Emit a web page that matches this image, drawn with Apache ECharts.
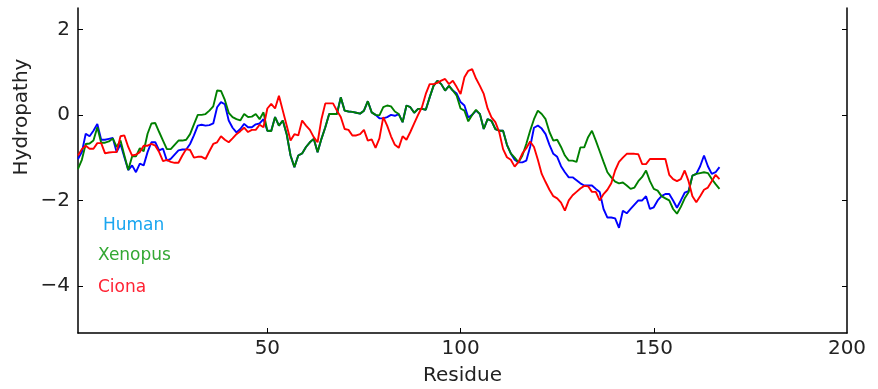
<!DOCTYPE html>
<html>
<head>
<meta charset="utf-8">
<script src="https://cdn.jsdelivr.net/npm/echarts@6/dist/echarts.min.js"></script>
<style>
html,body{margin:0;padding:0;background:#fff;}
#chart{width:878px;height:389px;}
</style>
</head>
<body>
<div id="chart"></div>
<script>
const xTicks = [50, 100, 150, 200];
const yTicks = [-4, -2, 0, 2];
const seriesNames = ['Human', 'Xenopus', 'Ciona'];
const xLabel = 'Residue';
const yLabel = 'Hydropathy';

const human = [
-1.03,-0.87,-0.44,-0.5,-0.37,-0.21,-0.58,-0.58,-0.56,-0.54,
-0.87,-0.68,-0.99,-1.29,-1.18,-1.34,-1.14,-1.18,-0.87,-0.64,
-0.64,-0.83,-0.79,-1.07,-1.03,-0.93,-0.83,-0.81,-0.81,-0.68,
-0.48,-0.25,-0.23,-0.25,-0.24,-0.2,0.18,0.3,0.25,-0.13,
-0.3,-0.41,-0.33,-0.21,-0.29,-0.29,-0.22,-0.2,-0.1,-0.37,
-0.37,-0.05,-0.25,-0.13,-0.45,-0.95,-1.22,-0.95,-0.9,-0.75,
-0.64,-0.56,-0.87,-0.56,-0.29,0.02,0.02,0.02,0.41,0.1,
0.08,0.07,0.05,0.03,0.1,0.32,0.06,0.0,-0.08,-0.08,
-0.05,0.0,-0.02,0.02,-0.17,0.22,0.18,0.05,0.14,0.14,
0.12,0.41,0.68,0.8,0.72,0.57,0.68,0.57,0.5,0.3,
0.22,-0.06,0.0,0.1,0.02,-0.33,-0.1,-0.14,-0.33,-0.37,
-0.37,-0.7,-0.9,-1.05,-1.11,-1.11,-1.07,-0.75,-0.3,-0.25,
-0.32,-0.45,-0.7,-0.91,-0.98,-1.2,-1.34,-1.46,-1.46,-1.53,
-1.6,-1.65,-1.65,-1.65,-1.73,-1.8,-2.2,-2.4,-2.4,-2.42,
-2.64,-2.24,-2.3,-2.2,-2.1,-2.0,-2.0,-1.9,-2.2,-2.16,
-2.0,-1.9,-1.85,-1.85,-2.0,-2.17,-2.0,-1.82,-1.78,-1.42,
-1.38,-1.2,-0.95,-1.2,-1.38,-1.34,-1.22
];

const xenopus = [
-1.26,-1.05,-0.68,-0.67,-0.6,-0.29,-0.65,-0.65,-0.62,-0.55,
-0.75,-0.6,-0.95,-1.29,-0.97,-0.97,-0.78,-0.85,-0.44,-0.2,
-0.19,-0.4,-0.6,-0.8,-0.8,-0.7,-0.6,-0.6,-0.58,-0.45,
-0.22,0.0,0.0,0.02,0.1,0.2,0.57,0.56,0.35,0.05,
-0.05,-0.1,-0.13,0.02,-0.05,-0.04,0.02,-0.1,0.06,-0.37,
-0.38,-0.05,-0.25,-0.13,-0.45,-0.95,-1.22,-0.95,-0.9,-0.75,
-0.64,-0.56,-0.87,-0.56,-0.29,0.02,0.02,0.02,0.41,0.1,
0.08,0.07,0.05,0.03,0.1,0.32,0.06,0.0,-0.01,0.18,
0.22,0.2,0.08,0.02,-0.17,0.22,0.18,0.05,0.14,0.14,
0.12,0.41,0.68,0.8,0.72,0.57,0.68,0.57,0.45,0.15,
0.1,-0.15,0.0,0.12,0.02,-0.33,-0.1,-0.14,-0.33,-0.37,
-0.37,-0.7,-0.9,-1.0,-1.11,-0.95,-0.68,-0.37,-0.1,0.1,
0.02,-0.1,-0.4,-0.6,-0.58,-0.75,-0.95,-1.07,-1.07,-1.1,
-0.76,-0.76,-0.52,-0.37,-0.6,-0.85,-1.1,-1.34,-1.46,-1.56,
-1.6,-1.58,-1.65,-1.73,-1.7,-1.55,-1.45,-1.3,-1.55,-1.73,
-1.77,-1.9,-1.95,-2.0,-2.2,-2.31,-2.15,-1.95,-1.81,-1.42,
-1.38,-1.36,-1.34,-1.36,-1.5,-1.62,-1.73
];

const ciona = [
-0.95,-0.8,-0.72,-0.79,-0.79,-0.66,-0.66,-0.9,-0.88,-0.87,
-0.87,-0.5,-0.48,-0.75,-0.95,-0.93,-0.87,-0.72,-0.72,-0.68,
-0.72,-0.87,-1.08,-1.05,-1.1,-1.12,-1.12,-0.95,-0.8,-0.82,
-1.0,-0.98,-0.98,-1.03,-0.85,-0.68,-0.64,-0.5,-0.58,-0.64,
-0.55,-0.45,-0.38,-0.3,-0.4,-0.35,-0.35,-0.23,-0.29,0.15,
0.26,0.15,0.45,0.1,-0.25,-0.6,-0.45,-0.48,-0.13,-0.25,
-0.35,-0.52,-0.64,-0.1,0.27,0.27,0.27,0.1,-0.05,-0.33,
-0.35,-0.48,-0.48,-0.45,-0.35,-0.6,-0.57,-0.77,-0.55,-0.05,
-0.25,-0.5,-0.7,-0.77,-0.5,-0.58,-0.4,-0.2,0.0,0.18,
0.49,0.72,0.72,0.75,0.8,0.84,0.72,0.8,0.65,0.49,
0.88,1.03,1.07,0.85,0.68,0.49,0.15,-0.06,-0.17,-0.4,
-0.8,-0.99,-1.05,-1.21,-1.1,-0.9,-0.78,-0.62,-0.75,-1.05,
-1.38,-1.57,-1.75,-1.9,-1.95,-2.05,-2.24,-2.0,-1.88,-1.8,
-1.72,-1.66,-1.67,-1.8,-1.8,-2.0,-1.85,-1.75,-1.6,-1.3,
-1.1,-1.0,-0.91,-0.91,-0.91,-0.92,-1.15,-1.15,-1.03,-1.03,
-1.03,-1.03,-1.03,-1.4,-1.5,-1.55,-1.5,-1.3,-1.55,-1.9,
-2.04,-1.9,-1.75,-1.7,-1.55,-1.4,-1.5
];

const residues = human.map((_, i) => i + 1);
const pairs = arr => arr.map((v, i) => [residues[i], v]);
const minusFmt = v => String(v).replace('-', '\u2212');

const chart = echarts.init(document.getElementById('chart'), null, {renderer: 'canvas'});
const FONT = 'DejaVu Sans';
const lineColors = ['#0000ff', '#008000', '#ff0000'];
const textColors = ['#1aa6f0', '#33a833', '#ff2233'];

const option = {
  animation: false,
  backgroundColor: '#fff',
  grid: {left: 78, right: 31, top: 8, bottom: 56, containLabel: false, outerBoundsMode: 'none'},
  xAxis: {
    type: 'value', min: 1, max: 200,
    name: xLabel, nameLocation: 'middle', nameGap: 33,
    nameTextStyle: {fontFamily: FONT, fontSize: 20, color: '#222'},
    axisLine: {show: true, onZero: false, lineStyle: {color: '#000', width: 1.5}},
    axisTick: {show: true, inside: true, length: 5, customValues: xTicks.slice(0, 3), lineStyle: {color: '#000'}},
    axisLabel: {customValues: xTicks, fontFamily: FONT, fontSize: 20, color: '#222', margin: 6},
    splitLine: {show: false}
  },
  yAxis: [{
    type: 'value', min: -5.1, max: 2.5, position: 'left',
    axisLine: {show: true, onZero: false, lineStyle: {color: '#000', width: 1.5}},
    axisTick: {show: true, inside: true, length: 5, customValues: yTicks, lineStyle: {color: '#000'}},
    axisLabel: {customValues: yTicks, formatter: minusFmt, fontFamily: FONT, fontSize: 20, color: '#222', margin: 8},
    splitLine: {show: false}
  }, {
    type: 'value', min: -5.1, max: 2.5, position: 'right',
    axisLine: {show: true, onZero: false, lineStyle: {color: '#000', width: 1.5}},
    axisTick: {show: true, inside: true, length: 5, customValues: yTicks, lineStyle: {color: '#000'}},
    axisLabel: {show: false},
    splitLine: {show: false}
  }],
  series: [human, xenopus, ciona].map((arr, i) => ({
    name: seriesNames[i], type: 'line', data: pairs(arr),
    showSymbol: false, symbol: 'none',
    lineStyle: {color: lineColors[i], width: 1.9},
    z: 2 + i
  })),
  graphic: [
    {type: 'text', x: 22, y: 117, rotation: Math.PI / 2,
     style: {text: yLabel, fill: '#222', font: '20px "DejaVu Sans"', align: 'center', verticalAlign: 'middle'}},
    {type: 'text', left: 103, top: 217, style: {text: seriesNames[0], fill: textColors[0], font: '17px "DejaVu Sans"'}},
    {type: 'text', left: 98, top: 247, style: {text: seriesNames[1], fill: textColors[1], font: '17px "DejaVu Sans"'}},
    {type: 'text', left: 98, top: 279, style: {text: seriesNames[2], fill: textColors[2], font: '17px "DejaVu Sans"'}}
  ]
};
chart.setOption(option);
</script>
</body>
</html>
